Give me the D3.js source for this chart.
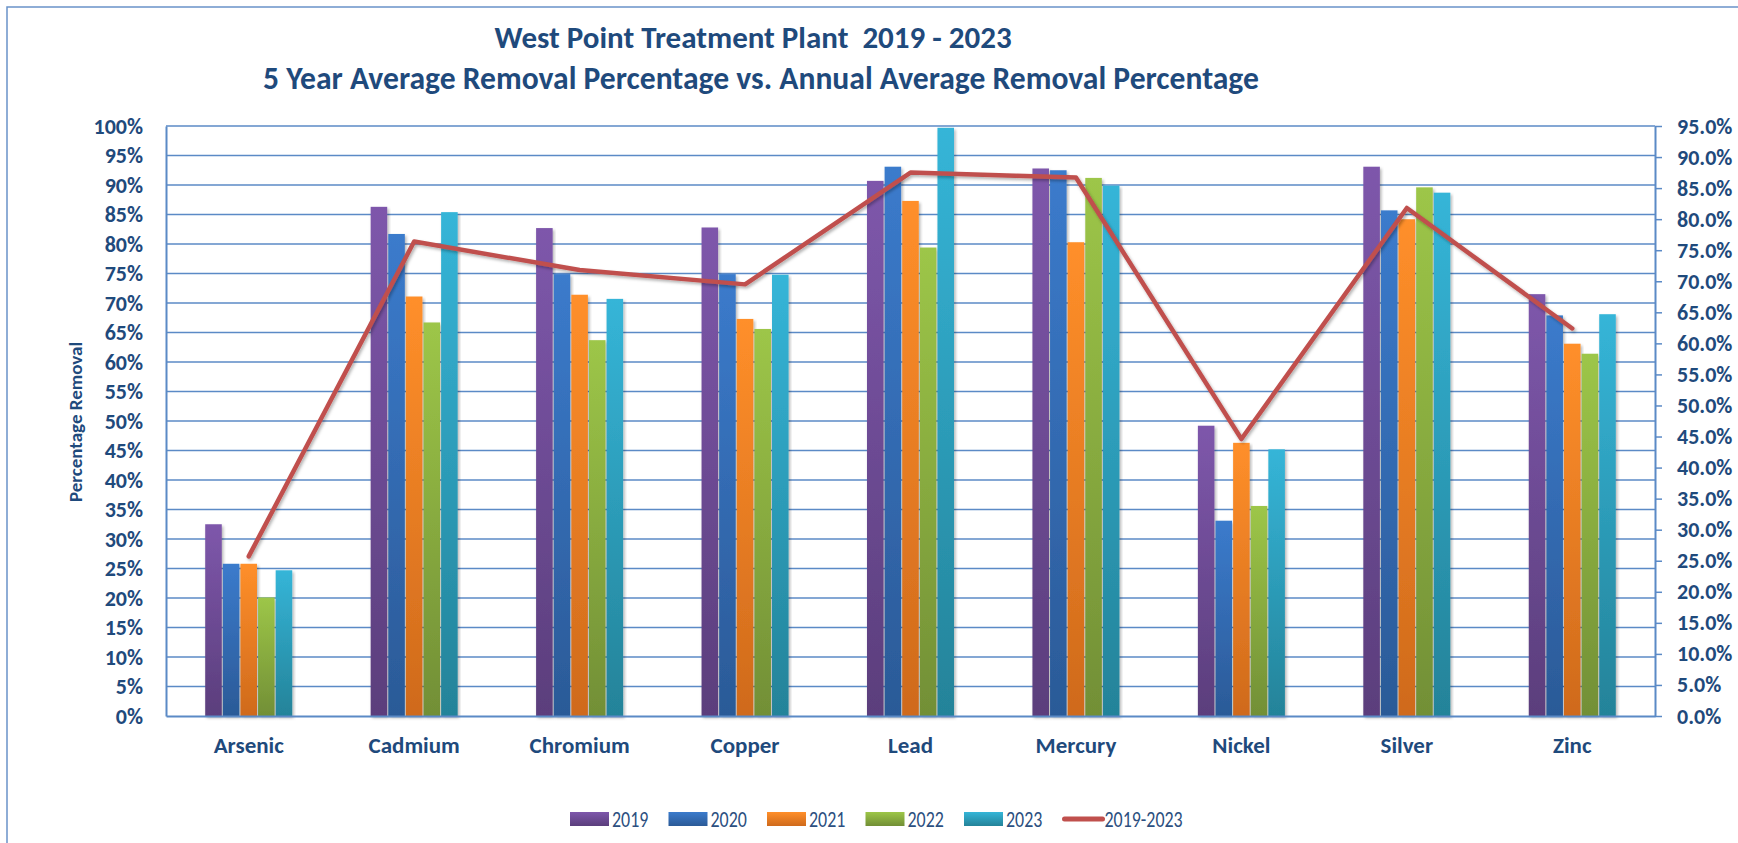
<!DOCTYPE html>
<html>
<head>
<meta charset="utf-8">
<script src="https://d3js.org/d3.v7.min.js"></script>
<style>
  body { margin: 0; background: #fff; }
  text { font-family: Carlito, Calibri, Lato, sans-serif; }
</style>
</head>
<body>
<div id="chart"></div>
<script>
// data (percent)
var categories = ["Arsenic", "Cadmium", "Chromium", "Copper", "Lead", "Mercury", "Nickel", "Silver", "Zinc"];
var years = ["2019", "2020", "2021", "2022", "2023"];
var v2019 = [32.5, 86.3, 82.7, 82.8, 90.7, 92.8, 49.2, 93.1, 71.5];
var v2020 = [25.8, 81.7, 74.9, 74.9, 93.1, 92.5, 33.1, 85.7, 67.9];
var v2021 = [25.8, 71.1, 71.4, 67.3, 87.3, 80.3, 46.3, 84.2, 63.1];
var v2022 = [20.1, 66.7, 63.7, 65.6, 79.4, 91.2, 35.6, 89.6, 61.4];
var v2023 = [24.7, 85.4, 70.7, 74.8, 99.7, 89.9, 45.2, 88.7, 68.1];
var avgLabel = "2019-2023";
var avg5yr = [25.7, 76.4, 71.8, 69.5, 87.5, 86.7, 44.6, 81.8, 62.4];
var leftTicks = d3.range(0, 101, 5);
var rightTicks = d3.range(0, 96, 5);

var seriesVals = [v2019, v2020, v2021, v2022, v2023];
var colTop = ["#7e57ab", "#3b7bcc", "#ff8f2a", "#9dc648", "#35b5d8"];
var colBot = ["#5b3e7c", "#2b5a97", "#cf6a1c", "#728f36", "#248399"];
var textCol = "#1f4a7c";
var gridCol = "#5b8ac6";

var W = 1738, H = 843;
var margin = {top: 126, right: 83, bottom: 127, left: 166};
var width = W - margin.left - margin.right,
    height = H - margin.top - margin.bottom;

var svg = d3.select("#chart").append("svg")
    .attr("width", W)
    .attr("height", H);

var defs = svg.append("defs");
years.forEach(function(y, i) {
  var g = defs.append("linearGradient")
      .attr("id", "grad" + i)
      .attr("x1", 0).attr("y1", 0).attr("x2", 0).attr("y2", 1);
  g.append("stop").attr("offset", "0%").attr("stop-color", colTop[i]);
  g.append("stop").attr("offset", "100%").attr("stop-color", colBot[i]);
});
defs.append("filter").attr("id", "shadow")
    .attr("x", "-20%").attr("y", "-20%").attr("width", "140%").attr("height", "140%")
  .append("feDropShadow")
    .attr("dx", 1.5).attr("dy", 2).attr("stdDeviation", 1.5)
    .attr("flood-color", "#000").attr("flood-opacity", 0.3);

// outer frame (top and left only, the rest is cut off)
svg.append("path")
    .attr("d", "M7," + H + "V7H" + W)
    .attr("fill", "none")
    .attr("stroke", "#6a93c9")
    .attr("stroke-width", 1.5);

// title
svg.append("text")
    .attr("x", 753).attr("y", 48)
    .attr("text-anchor", "middle")
    .style("font-size", "31px").style("font-weight", "bold")
    .attr("fill", textCol)
    .attr("xml:space", "preserve")
    .text("West Point Treatment Plant  2019 - 2023");
svg.append("text")
    .attr("x", 761).attr("y", 89)
    .attr("text-anchor", "middle")
    .style("font-size", "31.6px").style("font-weight", "bold")
    .attr("fill", textCol)
    .text("5 Year Average Removal Percentage vs. Annual Average Removal Percentage");

var g = svg.append("g")
    .attr("transform", "translate(" + margin.left + "," + margin.top + ")");

// scales
var x0 = d3.scaleBand()
    .domain(categories)
    .range([0, width])
    .paddingInner(0.474)
    .paddingOuter(0.237);
var x1 = d3.scaleBand()
    .domain(years)
    .range([0, x0.bandwidth()])
    .paddingInner(0.06);
var yL = d3.scaleLinear().domain([0, 100]).range([height, 0]);
var yR = d3.scaleLinear().domain([0, 95]).range([height, 0]);

// gridlines
g.append("g")
  .selectAll("line")
  .data(leftTicks.filter(function(d) { return d > 0; }))
  .enter().append("line")
    .attr("x1", 0).attr("x2", width)
    .attr("y1", function(d) { return yL(d); })
    .attr("y2", function(d) { return yL(d); })
    .attr("stroke", gridCol)
    .attr("stroke-width", 1.5);

// bars
var groups = g.selectAll(".grp")
    .data(categories)
    .enter().append("g")
    .attr("class", "grp")
    .attr("transform", function(d) { return "translate(" + x0(d) + ",0)"; });

groups.selectAll("rect")
    .data(function(c, ci) {
      return years.map(function(y, i) { return {year: y, i: i, v: seriesVals[i][ci]}; });
    })
    .enter().append("rect")
    .attr("x", function(d) { return x1(d.year); })
    .attr("y", function(d) { return yL(d.v); })
    .attr("width", x1.bandwidth())
    .attr("height", function(d) { return height - yL(d.v); })
    .attr("fill", function(d) { return "url(#grad" + d.i + ")"; })
    .attr("filter", "url(#shadow)");

// axes
var leftAxis = g.append("g")
    .call(d3.axisLeft(yL).tickValues(leftTicks).tickSize(0).tickPadding(23)
      .tickFormat(function(d) { return d + "%"; }));
var rightAxis = g.append("g")
    .attr("transform", "translate(" + width + ",0)")
    .call(d3.axisRight(yR).tickValues(rightTicks).tickSizeInner(7).tickSizeOuter(0).tickPadding(15)
      .tickFormat(function(d) { return d3.format(".1f")(d) + "%"; }));
var bottomAxis = g.append("g")
    .attr("transform", "translate(0," + height + ")")
    .call(d3.axisBottom(x0).tickSize(0).tickPadding(21));

[leftAxis, rightAxis, bottomAxis].forEach(function(a) {
  a.select(".domain").attr("stroke", gridCol).attr("stroke-width", 2);
  a.selectAll("line").attr("stroke", gridCol).attr("stroke-width", 1.5);
  a.selectAll("text")
    .attr("fill", textCol)
    .style("font-weight", "bold")
    .style("font-size", "22px");
});
bottomAxis.selectAll("text").style("font-size", "23px");

// y axis title
svg.append("text")
    .attr("transform", "translate(75,422) rotate(-90)")
    .attr("text-anchor", "middle")
    .attr("dy", "0.35em")
    .style("font-size", "19px").style("font-weight", "bold")
    .attr("fill", textCol)
    .text("Percentage Removal");

// 5 year average line (right axis)
g.append("path")
    .datum(avg5yr)
    .attr("fill", "none")
    .attr("stroke", "#c0504d")
    .attr("stroke-width", 4.5)
    .attr("stroke-linejoin", "round")
    .attr("stroke-linecap", "round")
    .attr("filter", "url(#shadow)")
    .attr("d", d3.line()
      .x(function(d, i) { return x0(categories[i]) + x0.bandwidth() / 2; })
      .y(function(d) { return yR(d); }));

// legend
var legend = svg.append("g").attr("class", "legend")
    .attr("transform", "translate(570,819)");
var items = years.concat([avgLabel]);
items.forEach(function(name, i) {
  var it = legend.append("g").attr("transform", "translate(" + (i * 98.5) + ",0)");
  if (i < years.length) {
    it.append("rect")
      .attr("x", 0).attr("y", -7)
      .attr("width", 39).attr("height", 14)
      .attr("fill", "url(#grad" + i + ")");
  } else {
    it.append("line")
      .attr("x1", 2).attr("x2", 40)
      .attr("stroke", "#c0504d")
      .attr("stroke-width", 5)
      .attr("stroke-linecap", "round");
  }
  it.append("text")
    .attr("transform", "translate(42,0) scale(0.78,1)")
    .attr("dy", "0.35em")
    .style("font-size", "23px")
    .attr("fill", "#2c4f80")
    .text(name);
});
</script>
</body>
</html>
